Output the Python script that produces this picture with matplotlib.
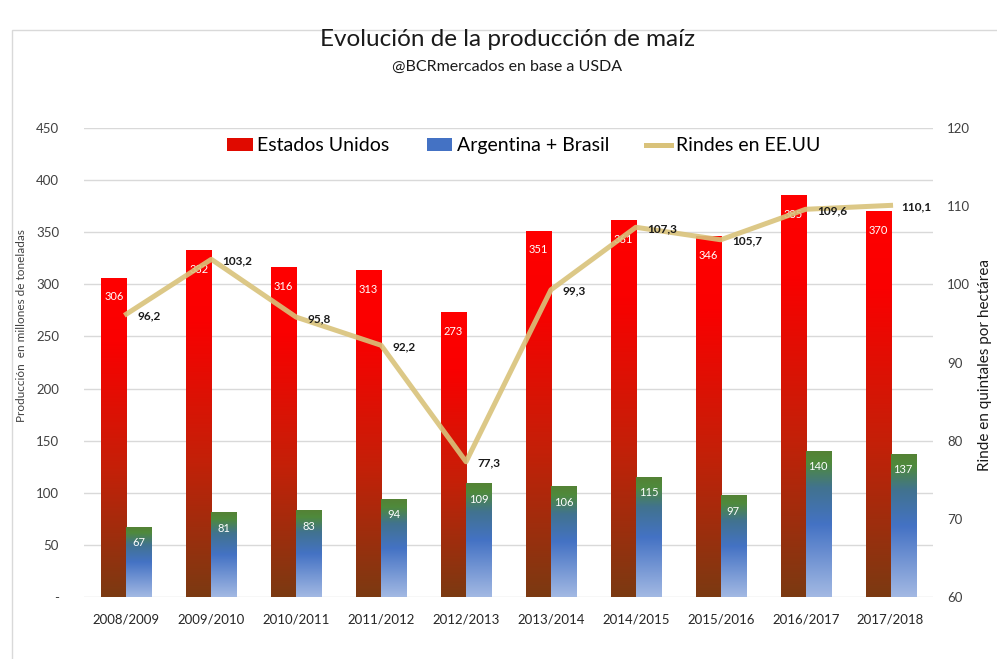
import matplotlib
matplotlib.use('Agg')
import matplotlib.pyplot as plt
import numpy as np
from matplotlib.colors import LinearSegmentedColormap
from matplotlib.patches import Rectangle, Patch
from matplotlib.lines import Line2D

seasons = ['2008/2009', '2009/2010', '2010/2011', '2011/2012', '2012/2013',
           '2013/2014', '2014/2015', '2015/2016', '2016/2017', '2017/2018']
usa = [306, 332, 316, 313, 273, 351, 361, 346, 385, 370]
arg_bra = [67, 81, 83, 94, 109, 106, 115, 97, 140, 137]
rindes = [96.2, 103.2, 95.8, 92.2, 77.3, 99.3, 107.3, 105.7, 109.6, 110.1]
left_ticks = [0, 50, 100, 150, 200, 250, 300, 350, 400, 450]
right_ticks = [60, 70, 80, 90, 100, 110, 120]

plt.rcParams['font.family'] = ['Lato', 'DejaVu Sans']

fig = plt.figure(figsize=(9.97, 6.59), dpi=100)
ax = fig.add_axes([84/997, 62/659, (933-84)/997, (597-128)/659])
ax2 = ax.twinx()

red_cmap = LinearSegmentedColormap.from_list(
    'red', [(0, '#7B3A12'), (0.4, '#C42008'), (0.8, '#FA0000'), (1, '#FF0000')])
blue_cmap = LinearSegmentedColormap.from_list(
    'blue', [(0, '#A3B9E3'), (0.5, '#4472C4'), (0.75, '#41738F'),
             (0.92, '#4F8A3C'), (1, '#548235')])

w = 0.295
x = np.arange(len(seasons))
grad = np.linspace(0, 1, 256).reshape(-1, 1)

bars_r = ax.bar(x - w/2, usa, width=w, color='none', zorder=1)
bars_b = ax.bar(x + w/2, arg_bra, width=w, color='none', zorder=1)
for bars, cmap in ((bars_r, red_cmap), (bars_b, blue_cmap)):
    for b in bars:
        x0 = b.get_x()
        ax.imshow(grad, extent=[x0, x0 + b.get_width(), 0, b.get_height()],
                  origin='lower', cmap=cmap, aspect='auto', zorder=2)

for i, v in enumerate(usa):
    ax.text(i - w/2, v - 18, str(v), ha='center', va='center',
            color='white', fontsize=8, zorder=3)
for i, v in enumerate(arg_bra):
    ax.text(i + w/2, v - 15, str(v), ha='center', va='center',
            color='white', fontsize=8, zorder=3)

ax.set_xlim(-0.5, 9.5)
ax.set_ylim(0, 450)
ax.set_yticks(left_ticks)
ax.set_yticklabels(['-' if t == 0 else str(t) for t in left_ticks])
ax.set_xticks(x)
ax.set_xticklabels(seasons)
ax.yaxis.grid(True, color='#D9D9D9', linewidth=1)
ax.set_axisbelow(True)
for s in ax.spines.values():
    s.set_visible(False)
ax.tick_params(axis='both', length=0, labelsize=9.5, colors='#404040')
ax.tick_params(axis='y', pad=18)
ax.tick_params(axis='x', pad=12, colors='#262626')

line_color = '#D9C27A'
ax2.plot(x, rindes, color=line_color, linewidth=3.6, alpha=0.9,
         solid_joinstyle='round', zorder=4)
for i, v in enumerate(rindes):
    ax2.annotate(f'{v:.1f}'.replace('.', ','), (i, v), xytext=(8, -1),
                 textcoords='offset points', ha='left', va='center',
                 fontsize=8.5, fontweight='bold', color='#1a1a1a', zorder=5)
ax2.set_ylim(60, 120)
ax2.set_yticks(right_ticks)
for s in ax2.spines.values():
    s.set_visible(False)
ax2.tick_params(axis='y', length=0, labelsize=9.5, colors='#404040', pad=10)

handles = [Patch(facecolor='#E00A00', edgecolor='none'),
           Patch(facecolor='#4472C4', edgecolor='none'),
           Line2D([0], [0], color=line_color, linewidth=3.6)]
fig.legend(handles, ['Estados Unidos', 'Argentina + Brasil', 'Rindes en EE.UU'],
           loc='upper center', bbox_to_anchor=(524/997, 1 - 120/659), ncol=3,
           frameon=False, fontsize=14, columnspacing=1.9, handlelength=1.3,
           handletextpad=0.25)

fig.text(507/997, 1 - 40/659, 'Evolución de la producción de maíz',
         ha='center', va='center', fontsize=17.5, color='#1a1a1a')
fig.text(507/997, 1 - 67/659, '@BCRmercados en base a USDA',
         ha='center', va='center', fontsize=11.5, color='#1a1a1a')
fig.text(22/997, 1 - 326/659, 'Producción  en millones de toneladas',
         rotation=90, ha='center', va='center', fontsize=8.5, color='#404040')
fig.text(985/997, 1 - 365/659, 'Rinde en quintales por hectárea',
         rotation=90, ha='center', va='center', fontsize=11, color='#1a1a1a')

fig.patches.append(Rectangle((12/997, -0.01), 1.0, 1 - 30/659 + 0.01,
                             transform=fig.transFigure, fill=False,
                             edgecolor='#D9D9D9', linewidth=1))

fig.savefig('out.png', dpi=100)
